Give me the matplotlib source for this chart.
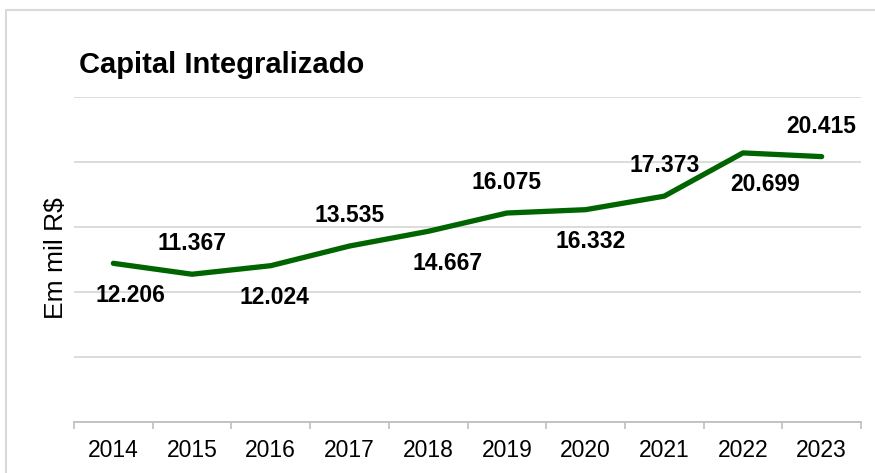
import matplotlib
matplotlib.use("Agg")
import matplotlib.pyplot as plt
from matplotlib.patches import Rectangle

# data
anos = ['2014', '2015', '2016', '2017', '2018', '2019', '2020', '2021', '2022', '2023']
capital = [12.206, 11.367, 12.024, 13.535, 14.667, 16.075, 16.332, 17.373, 20.699, 20.415]
rotulos = ['12.206', '11.367', '12.024', '13.535', '14.667', '16.075', '16.332', '17.373', '20.699', '20.415']

# label placement (points): alternate below / above, some nudged right
dx = [12, 0, 3, 0, 14, 0, 4, 0, 16, 0]
dy = [-23, 22, -23, 22, -23, 22, -23, 22, -23, 22]

plt.rcParams['font.family'] = ['Liberation Sans', 'DejaVu Sans']

fig = plt.figure(figsize=(8.75, 4.73), dpi=100)
ax = fig.add_axes([74/875, 1-422/473, (861-74)/875, (422-97)/473])

x = list(range(len(anos)))
ax.plot(x, capital, color='#006400', lw=3.8, solid_capstyle='round', solid_joinstyle='round', zorder=3)

for i in x:
    ax.annotate(rotulos[i], (x[i], capital[i]), xytext=(dx[i], dy[i]), textcoords='offset points',
                ha='center', va='center', fontsize=16.5, fontweight='bold', color='black', zorder=4)

ax.set_xlim(-0.5, len(anos) - 0.5)
ax.set_ylim(0, 25)
ax.set_yticks([0, 5, 10, 15, 20, 25])
ax.set_yticklabels([])
ax.tick_params(axis='y', length=0)
ax.yaxis.grid(True, color='#d9d9d9', lw=1.3)
ax.set_axisbelow(True)

ax.set_xticks([i - 0.5 for i in range(len(anos) + 1)])
ax.set_xticklabels([])
ax.set_xticks(x, minor=True)
ax.set_xticklabels(anos, minor=True, fontsize=16.5)
ax.tick_params(axis='x', which='major', length=5, width=1.2, color='#bfbfbf', direction='out')
ax.tick_params(axis='x', which='minor', length=0, pad=12)

for s in ['top', 'right', 'left']:
    ax.spines[s].set_visible(False)
ax.spines['bottom'].set_color('#bfbfbf')
ax.spines['bottom'].set_linewidth(1.3)

fig.text(79/875, 1-73/473, 'Capital Integralizado', fontsize=21, fontweight='bold', ha='left', va='baseline')
fig.text(56/875, 1-258/473, 'Em mil R$', fontsize=19, rotation=90, ha='center', va='center')

fig.patches.append(Rectangle((6/875, -0.2), 1.2, 1.2 - 10/473, transform=fig.transFigure,
                             fill=False, edgecolor='#d9d9d9', lw=1.5))

fig.savefig('out.png', dpi=100)
